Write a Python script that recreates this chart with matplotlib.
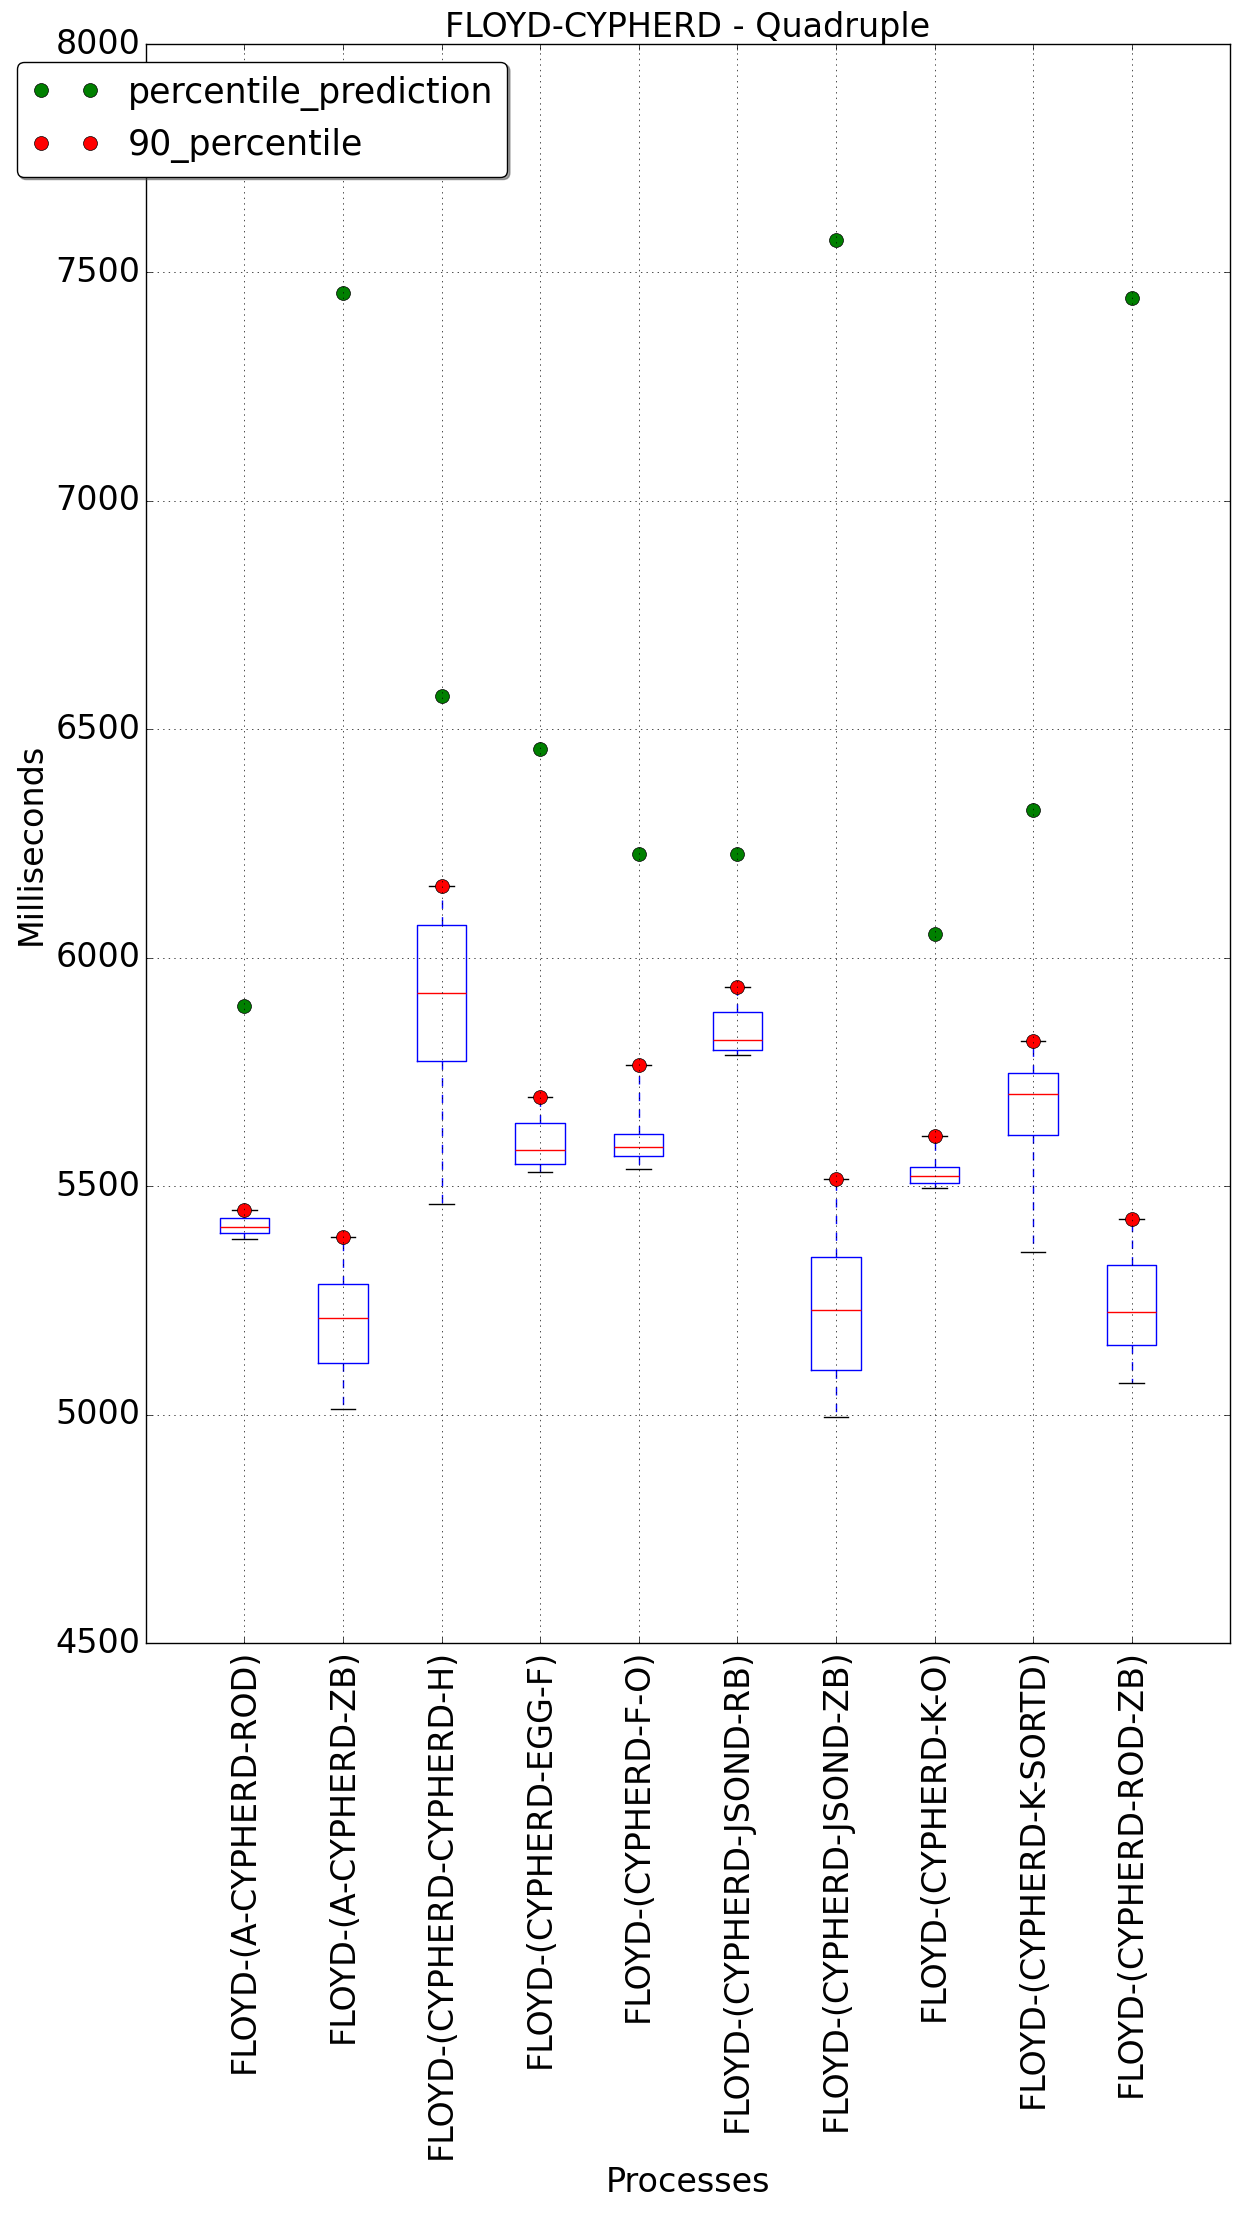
import matplotlib
matplotlib.use('Agg')
import matplotlib.pyplot as plt

# Données
processes = ['FLOYD-(A-CYPHERD-ROD)', 'FLOYD-(A-CYPHERD-ZB)', 'FLOYD-(CYPHERD-CYPHERD-H)',
             'FLOYD-(CYPHERD-EGG-F)', 'FLOYD-(CYPHERD-F-O)', 'FLOYD-(CYPHERD-JSOND-RB)',
             'FLOYD-(CYPHERD-JSOND-ZB)', 'FLOYD-(CYPHERD-K-O)', 'FLOYD-(CYPHERD-K-SORTD)',
             'FLOYD-(CYPHERD-ROD-ZB)']
q1 = [5397, 5113, 5773, 5549, 5566, 5799, 5097, 5508, 5611, 5152]
median = [5411, 5211, 5922, 5580, 5585, 5819, 5229, 5523, 5702, 5225]
q3 = [5431, 5285, 6071, 5638, 5615, 5882, 5345, 5542, 5748, 5328]
minimum = [5385, 5012, 5461, 5532, 5538, 5788, 4995, 5496, 5356, 5069]
percentile_90 = [5448, 5389, 6158, 5696, 5765, 5935, 5515, 5609, 5818, 5429]
percentile_prediction = [5895, 7454, 6572, 6458, 6228, 6228, 7570, 6051, 6324, 7444]

plt.style.use('classic')

fig = plt.figure(figsize=(12.39, 22.36), dpi=100)
ax = fig.add_subplot(111)
fig.subplots_adjust(left=0.1176, right=0.993, top=0.9803, bottom=0.2652)

positions = list(range(1, len(processes) + 1))

# Statistiques des boîtes (moustache haute = 90e percentile)
stats = []
for i in range(len(processes)):
    stats.append({'med': median[i], 'q1': q1[i], 'q3': q3[i],
                  'whislo': minimum[i], 'whishi': percentile_90[i], 'fliers': []})
ax.bxp(stats, positions=positions, showfliers=False)

# Points de percentile
ax.plot(positions, percentile_prediction, 'o', color='green', markersize=10,
        label='percentile_prediction')
ax.plot(positions, percentile_90, 'o', color='red', markersize=10,
        label='90_percentile')

ax.set_xlim(0, 11)
ax.set_ylim(4500, 8000)
ax.set_xticks(positions)
ax.set_xticklabels(processes, rotation=90, fontsize=24)
ax.tick_params(axis='y', labelsize=24)
ax.grid(True)

ax.set_title('FLOYD-CYPHERD - Quadruple', fontsize=24)
ax.set_xlabel('Processes', fontsize=24)
ax.set_ylabel('Milliseconds', fontsize=24)

ax.legend(loc='upper left', bbox_to_anchor=(-0.119, 0.989), borderaxespad=0,
          numpoints=2, fancybox=True, shadow=True, fontsize=25)

fig.savefig('out.png', dpi=100)
